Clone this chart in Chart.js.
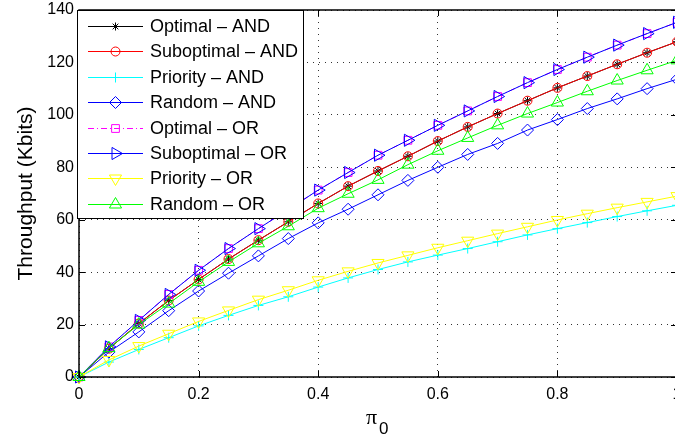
<!DOCTYPE html>
<html>
<head>
<meta charset="utf-8">
<script src="https://cdn.jsdelivr.net/npm/chart.js@4/dist/chart.umd.min.js"></script>
<style>
    html, body { margin: 0; padding: 0; background: #fff; overflow: hidden; }
    #wrap { width: 685px; height: 437px; position: relative; }
</style>
</head>
<body>
<div id="wrap"><canvas id="throughputChart"></canvas></div>
<script>
// pi_0 values on the x axis
const piValues = [0, 0.05, 0.1, 0.15, 0.2, 0.25, 0.3, 0.35, 0.4, 0.45, 0.5, 0.55, 0.6, 0.65, 0.7, 0.75, 0.8, 0.85, 0.9, 0.95, 1];

// throughput (Kbits)
const optimalAnd    = [0, 10.8, 20.4, 29.2, 37.2, 45.0, 52.2, 59.2, 66.2, 72.8, 78.6, 84.2, 90.0, 95.4, 100.5, 105.4, 110.3, 114.8, 119.3, 123.7, 127.9];
const suboptimalAnd = [0, 10.8, 20.4, 29.2, 37.2, 45.0, 52.2, 59.2, 66.2, 72.8, 78.6, 84.2, 90.0, 95.4, 100.5, 105.4, 110.3, 114.8, 119.3, 123.7, 127.9];
const priorityAnd   = [0, 5.7, 10.5, 15.0, 19.5, 23.5, 27.3, 30.6, 34.3, 37.8, 41.0, 43.9, 46.5, 49.0, 51.6, 54.2, 56.6, 58.9, 61.2, 63.4, 65.5];
const randomAnd     = [0, 9.5, 17.2, 25.3, 32.8, 39.6, 46.2, 52.8, 58.8, 64.0, 69.5, 75.0, 80.0, 84.9, 89.1, 94.2, 98.2, 102.4, 106.1, 110.0, 113.6];
const optimalOr     = [0, 11.5, 21.6, 31.5, 40.7, 49.0, 56.6, 63.9, 71.3, 78.0, 84.6, 90.3, 96.0, 101.5, 107.0, 112.3, 117.3, 122.0, 126.6, 131.0, 135.3];
const suboptimalOr  = [0, 11.5, 21.6, 31.5, 40.7, 49.0, 56.6, 63.9, 71.3, 78.0, 84.6, 90.3, 96.0, 101.5, 107.0, 112.3, 117.3, 122.0, 126.6, 131.0, 135.3];
const priorityOr    = [0, 6.5, 11.8, 16.5, 21.2, 25.4, 29.5, 33.1, 36.9, 40.3, 43.5, 46.4, 49.3, 52.0, 54.7, 57.3, 59.9, 62.3, 64.6, 66.8, 69.0];
const randomOr      = [0, 11.0, 20.0, 28.0, 36.3, 43.9, 51.0, 57.5, 64.4, 69.9, 75.2, 81.0, 86.3, 91.2, 96.0, 100.5, 104.7, 109.0, 113.1, 117.0, 120.8];

const xTicks = [0, 0.2, 0.4, 0.6, 0.8, 1];
const yTicks = [0, 20, 40, 60, 80, 100, 120, 140];

const FONT = "'Liberation Sans', Arial, sans-serif";

function series(label, data, color, style, radius, rotation, dash) {
    return {
        label: label,
        data: data,
        borderColor: color,
        borderWidth: 1,
        borderDash: dash || [],
        pointStyle: style,
        pointRadius: radius,
        pointRotation: rotation || 0,
        pointBorderColor: color,
        pointBackgroundColor: "rgba(0,0,0,0)",
        pointBorderWidth: 1,
        fill: false,
        tension: 0,
        clip: false
    };
}

let datasets = [
    series("Optimal \u2013 AND", optimalAnd, "#000000", "star", 4),
    series("Suboptimal \u2013 AND", suboptimalAnd, "#ff0000", "circle", 4.5),
    series("Priority \u2013 AND", priorityAnd, "#00ffff", "cross", 5),
    series("Random \u2013 AND", randomAnd, "#0000ff", "rectRot", 6),
    series("Optimal \u2013 OR", optimalOr, "#ff00ff", "rect", 5.5, 0, [6, 3, 1, 3]),
    series("Suboptimal \u2013 OR", suboptimalOr, "#0000ff", "triangle", 7, 90),
    series("Priority \u2013 OR", priorityOr, "#ffff00", "triangle", 7, 180),
    series("Random \u2013 OR", randomOr, "#00ff00", "triangle", 7)
];
// later series drawn on top, like the original plot
datasets.forEach((d, i) => { d.order = datasets.length - i; });

function drawMarker(ctx, ds, x, y) {
    ctx.save();
    ctx.strokeStyle = ds.pointBorderColor;
    ctx.fillStyle = "rgba(0,0,0,0)";
    ctx.lineWidth = 1;
    ctx.setLineDash([]);
    Chart.helpers.drawPoint(ctx, {
        pointStyle: ds.pointStyle,
        rotation: ds.pointRotation,
        radius: ds.pointRadius,
        borderWidth: 1
    }, x, y);
    ctx.restore();
}

const framePlugin = {
    id: "frame",
    afterDraw(chart) {
        const ctx = chart.ctx;
        const a = chart.chartArea;
        const xs = chart.scales.x, ys = chart.scales.y;
        ctx.save();
        ctx.strokeStyle = "#000";
        ctx.lineWidth = 1.5;
        ctx.strokeRect(a.left, a.top, a.right - a.left, a.bottom - a.top);
        ctx.lineWidth = 1;
        ctx.beginPath();
        xTicks.forEach(v => {
            const px = Math.round(xs.getPixelForValue(v)) + 0.5;
            ctx.moveTo(px, a.bottom); ctx.lineTo(px, a.bottom - 6);
            ctx.moveTo(px, a.top); ctx.lineTo(px, a.top + 6);
        });
        yTicks.forEach(v => {
            const py = Math.round(ys.getPixelForValue(v)) + 0.5;
            ctx.moveTo(a.left, py); ctx.lineTo(a.left + 6, py);
            ctx.moveTo(a.right, py); ctx.lineTo(a.right - 6, py);
        });
        ctx.stroke();

        // legend box
        const lx = 77, ly = 10, lw = 226, lh = 208;
        ctx.fillStyle = "#fff";
        ctx.fillRect(lx, ly, lw, lh);
        ctx.strokeStyle = "#000";
        ctx.lineWidth = 1;
        ctx.strokeRect(lx + 0.5, ly + 0.5, lw, lh);
        ctx.font = "18px " + FONT;
        ctx.textBaseline = "middle";
        ctx.textAlign = "left";
        chart.data.datasets.forEach((ds, i) => {
            const cy = 26 + i * 25.4;
            ctx.save();
            ctx.strokeStyle = ds.borderColor;
            ctx.lineWidth = 1;
            ctx.setLineDash(ds.borderDash);
            ctx.beginPath();
            ctx.moveTo(88, Math.round(cy) + 0.5);
            ctx.lineTo(143, Math.round(cy) + 0.5);
            ctx.stroke();
            ctx.restore();
            drawMarker(ctx, ds, 115.5, Math.round(cy) + 0.5);
            ctx.fillStyle = "#000";
            ctx.fillText(ds.label, 150, cy + 1);
        });

        // x axis label: pi with subscript 0
        ctx.fillStyle = "#000";
        ctx.textBaseline = "alphabetic";
        ctx.font = "22px 'Liberation Serif', 'DejaVu Serif', serif";
        ctx.fillText("\u03c0", 366, 423.5);
        ctx.font = "17px " + FONT;
        ctx.fillText("0", 379, 433.5);
        ctx.restore();
    }
};

Chart.defaults.font.family = FONT;
Chart.defaults.color = "#000";

new Chart(document.getElementById("throughputChart"), {
    type: "line",
    data: {
        labels: piValues,
        datasets: datasets
    },
    options: {
        responsive: true,
        maintainAspectRatio: false,
        animation: false,
        layout: { padding: { top: 10, right: 8, left: 0, bottom: 0 } },
        plugins: {
            legend: { display: false },
            tooltip: { enabled: false }
        },
        scales: {
            x: {
                type: "linear",
                min: 0,
                max: 1,
                afterFit(scale) {
                    scale.height = 60;
                    scale.paddingLeft = 0;
                    scale.paddingRight = 0;
                },
                afterBuildTicks(scale) { scale.ticks = xTicks.map(v => ({ value: v })); },
                ticks: {
                    font: { size: 16 },
                    padding: 8,
                    maxRotation: 0,
                    callback: v => String(v)
                },
                grid: { color: "#333", drawTicks: false },
                border: { display: false, dash: [1, 5] }
            },
            y: {
                min: 0,
                max: 140,
                afterFit(scale) {
                    scale.width = 79;
                    scale.paddingTop = 0;
                    scale.paddingBottom = 0;
                },
                afterBuildTicks(scale) { scale.ticks = yTicks.map(v => ({ value: v })); },
                ticks: { font: { size: 16 }, padding: 5, callback: v => String(v) },
                grid: { color: "#333", drawTicks: false },
                border: { display: false, dash: [1, 5] },
                title: {
                    display: true,
                    text: "Throughput (Kbits)",
                    font: { size: 21 },
                    padding: { top: 14, bottom: 0 }
                }
            }
        }
    },
    plugins: [framePlugin]
});
</script>
</body>
</html>
